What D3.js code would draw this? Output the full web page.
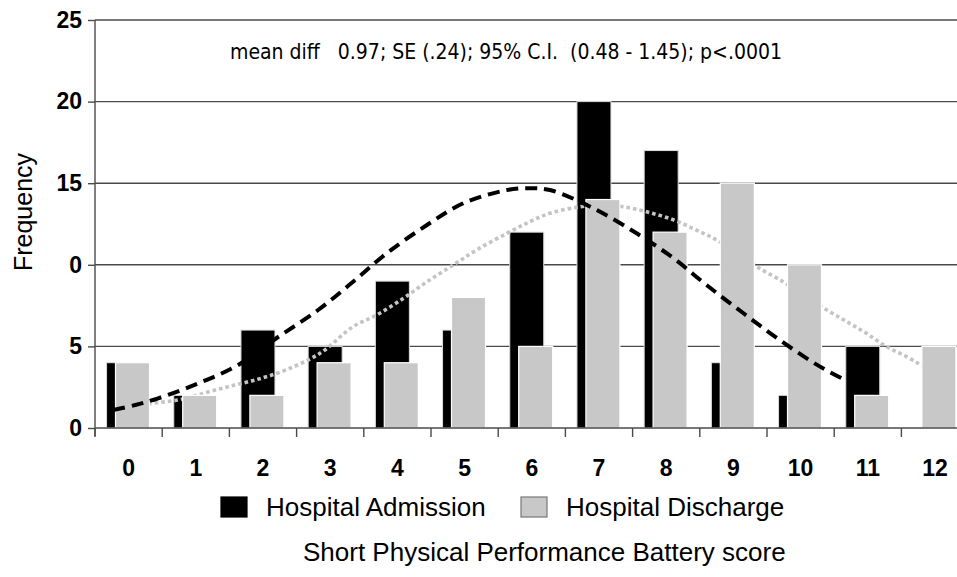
<!DOCTYPE html>
<html>
<head>
<meta charset="utf-8">
<script src="https://cdn.jsdelivr.net/npm/d3@7"></script>
<style>
  body { margin: 0; background: #fff; }
  svg { display: block; }
</style>
</head>
<body>
<svg id="chart" width="957" height="577"></svg>
<script>
var scores = ["0", "1", "2", "3", "4", "5", "6", "7", "8", "9", "10", "11", "12"];
var admission = [4, 2, 6, 5, 9, 6, 12, 20, 17, 4, 2, 5, 0];
var discharge = [4, 2, 2, 4, 4, 8, 5, 14, 12, 15, 10, 2, 5];

// fitted curves as [score, frequency]
var admissionFit = [[-0.23, 1.10], [0.10, 1.41], [0.44, 1.82], [1.04, 2.74], [1.63, 3.86], [2.23, 5.59],
	[2.82, 7.23], [3.34, 8.96], [3.84, 10.70], [4.44, 12.44], [4.98, 13.77], [5.63, 14.58],
	[5.97, 14.69], [6.27, 14.58], [6.87, 13.56], [7.56, 11.93], [8.11, 10.40], [8.60, 8.76],
	[9.15, 7.03], [9.69, 5.39], [10.29, 3.76], [10.88, 2.53], [11.16, 2.13]];
var dischargeFit = [[-0.20, 1.30], [0.34, 1.51], [0.74, 1.72], [0.99, 1.98], [1.29, 2.33], [1.58, 2.63],
	[1.88, 2.94], [2.18, 3.31], [2.48, 3.80], [2.72, 4.27], [2.92, 4.78], [3.34, 6.21], [3.69, 6.92],
	[4.09, 7.95], [4.44, 8.96], [4.83, 9.99], [5.18, 10.91], [5.63, 11.93], [5.97, 12.64],
	[6.27, 13.16], [6.72, 13.56], [7.05, 13.68], [7.36, 13.56], [7.71, 13.25], [8.11, 12.75],
	[8.45, 12.13], [8.75, 11.52], [9.05, 10.75], [9.35, 9.88], [9.74, 8.96], [10.05, 8.10],
	[10.39, 7.23], [10.69, 6.51], [10.98, 5.80], [11.28, 4.98], [11.58, 4.37], [11.80, 3.86], [12.00, 3.50]];

var yTicks = [0, 5, 10, 15, 20, 25];
var yTickLabels = ["0", "5", "0", "15", "20", "25"];
var seriesNames = ["Hospital Admission", "Hospital Discharge"];
var annotation = "mean diff   0.97; SE (.24); 95% C.I.  (0.48 - 1.45); p<.0001";
var xTitle = "Short Physical Performance Battery score";
var yTitle = "Frequency";

var svg = d3.select("#chart");
var plotLeft = 95, plotTop = 20, plotBottom = 428;
var bandW = 67.2;
var plotRight = plotLeft + bandW * scores.length;
var sans = "'Liberation Sans', Arial, sans-serif";

var x = d3.scaleBand().domain(scores).range([plotLeft, plotRight]);
var xs = d3.scaleLinear().domain([-0.5, scores.length - 0.5]).range([plotLeft, plotRight]);
var y = d3.scaleLinear().domain([0, 25]).range([plotBottom, plotTop]);

var barW = x.bandwidth() * 0.506;
var blackOff = x.bandwidth() * 0.172;
var grayOff = x.bandwidth() * 0.305;
var gridColor = "#4a4a4a";
var gray = "#c8c8c8";

// grid lines
svg.append("g")
	.selectAll("line")
	.data(yTicks.slice(1))
	.enter()
	.append("line")
	.attr("x1", plotLeft)
	.attr("x2", plotRight)
	.attr("y1", function(d) { return y(d); })
	.attr("y2", function(d) { return y(d); })
	.attr("stroke", gridColor)
	.attr("stroke-width", 1.4);

// admission bars
svg.append("g")
	.selectAll("rect")
	.data(admission)
	.enter()
	.append("rect")
	.attr("x", function(d, i) { return x(scores[i]) + blackOff; })
	.attr("y", function(d) { return y(d); })
	.attr("width", barW)
	.attr("height", function(d) { return plotBottom - y(d); })
	.attr("fill", "#000")
	.attr("stroke", function(d) { return d > 0 ? "#ddd" : "none"; })
	.attr("stroke-width", 1);

var line = d3.line()
	.x(function(d) { return xs(d[0]); })
	.y(function(d) { return y(d[1]); })
	.curve(d3.curveCatmullRom);

// discharge fit (under the gray bars)
svg.append("path")
	.datum(dischargeFit)
	.attr("d", line)
	.attr("fill", "none")
	.attr("stroke", "#c4c4c4")
	.attr("stroke-width", 3.6)
	.attr("stroke-dasharray", "3.6,3");

// discharge bars
svg.append("g")
	.selectAll("rect")
	.data(discharge)
	.enter()
	.append("rect")
	.attr("x", function(d, i) { return x(scores[i]) + grayOff; })
	.attr("y", function(d) { return y(d); })
	.attr("width", barW)
	.attr("height", function(d) { return plotBottom - y(d); })
	.attr("fill", gray)
	.attr("stroke", "#fff")
	.attr("stroke-width", 1.2);

// admission fit
svg.append("path")
	.datum(admissionFit)
	.attr("d", line)
	.attr("fill", "none")
	.attr("stroke", "#000")
	.attr("stroke-width", 4)
	.attr("stroke-dasharray", "12,7");

// y axis
var yAxis = d3.axisLeft(y)
	.tickValues(yTicks)
	.tickSize(7)
	.tickPadding(6)
	.tickFormat(function(d, i) { return yTickLabels[i]; });
var gy = svg.append("g")
	.attr("transform", "translate(" + plotLeft + ",0)")
	.call(yAxis);
gy.select(".domain").attr("stroke", gridColor).attr("stroke-width", 1.4)
	.attr("d", "M0," + plotTop + "V" + (plotBottom + 8));
gy.selectAll(".tick line").attr("stroke", gridColor).attr("stroke-width", 1.4);
gy.selectAll(".tick text")
	.attr("font-family", sans)
	.attr("font-weight", "bold")
	.attr("font-size", 23)
	.attr("fill", "#000");

// x axis: ticks at category boundaries
var gx = svg.append("g");
gx.append("line")
	.attr("x1", plotLeft).attr("x2", plotRight)
	.attr("y1", plotBottom).attr("y2", plotBottom)
	.attr("stroke", gridColor)
	.attr("stroke-width", 1.6);
gx.selectAll("line.tick")
	.data(scores)
	.enter()
	.append("line")
	.attr("class", "tick")
	.attr("x1", function(d) { return x(d); })
	.attr("x2", function(d) { return x(d); })
	.attr("y1", plotBottom)
	.attr("y2", plotBottom + 9)
	.attr("stroke", gridColor)
	.attr("stroke-width", 1.4);
gx.selectAll("text")
	.data(scores)
	.enter()
	.append("text")
	.attr("x", function(d) { return x(d) + x.bandwidth() / 2; })
	.attr("y", 476)
	.attr("text-anchor", "middle")
	.attr("font-family", sans)
	.attr("font-weight", "bold")
	.attr("font-size", 23)
	.text(function(d) { return d; });

// annotation
svg.append("text")
	.attr("x", 230)
	.attr("y", 59)
	.attr("font-family", "'DejaVu Sans Condensed', 'DejaVu Sans', sans-serif")
	.attr("font-stretch", "condensed")
	.attr("font-size", 21)
	.style("white-space", "pre")
	.text(annotation);

// legend
var legendX = [221, 521];
var legendFill = ["#000", gray];
var legend = svg.append("g")
	.selectAll("g")
	.data(seriesNames)
	.enter()
	.append("g")
	.attr("transform", function(d, i) { return "translate(" + legendX[i] + ",497)"; });
legend.append("rect")
	.attr("width", 26)
	.attr("height", 20)
	.attr("fill", function(d, i) { return legendFill[i]; })
	.attr("stroke", function(d, i) { return i ? "#777" : "#000"; })
	.attr("stroke-width", 1.2);
legend.append("text")
	.attr("x", 45)
	.attr("y", 19)
	.attr("font-family", sans)
	.attr("font-size", 26)
	.text(function(d) { return d; });

// axis titles
svg.append("text")
	.attr("x", 303)
	.attr("y", 561)
	.attr("font-family", sans)
	.attr("font-size", 26)
	.text(xTitle);

svg.append("text")
	.attr("transform", "translate(32,212) rotate(-90)")
	.attr("text-anchor", "middle")
	.attr("font-family", sans)
	.attr("font-size", 25)
	.text(yTitle);
</script>
</body>
</html>
